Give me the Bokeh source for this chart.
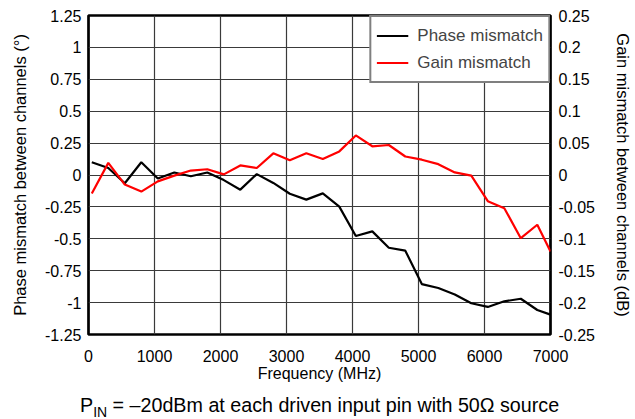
from bokeh.plotting import figure
from bokeh.models import Range1d, LinearAxis, FixedTicker, Div
from bokeh.layouts import column
from bokeh.embed import file_html
from bokeh.resources import INLINE

# ---- data ----
freq_mhz = [50, 300, 550, 800, 1050, 1300, 1550, 1800, 2050, 2300,
            2550, 2800, 3050, 3300, 3550, 3800, 4050, 4300, 4550, 4800,
            5050, 5300, 5550, 5800, 6050, 6300, 6550, 6800, 7000]
phase_deg = [0.10, 0.055, -0.065, 0.10, -0.027, 0.02, -0.01, 0.02, -0.04, -0.115,
             0.007, -0.062, -0.147, -0.193, -0.144, -0.248, -0.478, -0.442, -0.57, -0.593,
             -0.855, -0.886, -0.936, -1.005, -1.034, -0.99, -0.97, -1.058, -1.094]
gain_db = [-0.029, 0.019, -0.015, -0.026, -0.010, -0.001, 0.007, 0.009, 0.001, 0.015,
           0.011, 0.034, 0.023, 0.034, 0.025, 0.037, 0.062, 0.045, 0.047, 0.029,
           0.024, 0.017, 0.004, -0.001, -0.041, -0.052, -0.099, -0.078, -0.12]

x_ticks = [0, 1000, 2000, 3000, 4000, 5000, 6000, 7000]
phase_ticks = [1.25, 1, 0.75, 0.5, 0.25, 0, -0.25, -0.5, -0.75, -1, -1.25]
phase_tick_labels = ["1.25", "1", "0.75", "0.5", "0.25", "0", "-0.25", "-0.5", "-0.75", "-1", "-1.25"]
gain_ticks = [0.25, 0.2, 0.15, 0.1, 0.05, 0, -0.05, -0.1, -0.15, -0.2, -0.25]
gain_tick_labels = ["0.25", "0.2", "0.15", "0.1", "0.05", "0", "-0.05", "-0.1", "-0.15", "-0.2", "-0.25"]

caption_main = "P"
caption_sub = "IN"
caption_rest = "= \u201320dBm at each driven input pin with 50\u03a9 source"

FONT = "Liberation Sans"
W = 635

p = figure(width=W, height=390, output_backend="svg", toolbar_location=None,
           x_range=Range1d(0, 7000), y_range=Range1d(-1.25, 1.25),
           min_border_left=88, min_border_right=85, min_border_top=15, min_border_bottom=56)
p.extra_y_ranges = {"gain": Range1d(-0.25, 0.25)}

p.outline_line_color = "black"
p.outline_line_width = 2.7
p.outline_line_alpha = 1.0
p.background_fill_color = "white"
p.border_fill_color = "white"

xa = p.xaxis[0]
xa.ticker = FixedTicker(ticks=x_ticks)
xa.axis_label = "Frequency (MHz)"

ya = p.yaxis[0]
ya.ticker = FixedTicker(ticks=phase_ticks)
ya.major_label_overrides = {t: s for t, s in zip(phase_ticks, phase_tick_labels)}
ya.axis_label = "Phase mismatch between channels (°)"

ra = LinearAxis(y_range_name="gain", ticker=FixedTicker(ticks=gain_ticks))
ra.major_label_overrides = {t: s for t, s in zip(gain_ticks, gain_tick_labels)}
ra.axis_label = "Gain mismatch between channels (dB)"
p.add_layout(ra, "right")

for ax in [xa, ya, ra]:
    ax.axis_line_color = None
    ax.major_tick_line_color = None
    ax.minor_tick_line_color = None
    ax.major_tick_out = 0
    ax.major_tick_in = 0
    ax.major_label_text_font = FONT
    ax.major_label_text_font_size = "16px"
    ax.major_label_text_color = "black"
    ax.axis_label_text_font = FONT
    ax.axis_label_text_font_style = "normal"
    ax.axis_label_text_color = "black"

xa.major_label_standoff = 15
xa.axis_label_standoff = 0
xa.axis_label_text_font_size = "16px"
ya.major_label_standoff = 7
ya.axis_label_standoff = 13
ya.axis_label_text_font_size = "16.5px"
ra.major_label_standoff = 8
ra.axis_label_standoff = 16
ra.axis_label_text_font_size = "16.5px"

for g in [p.xgrid[0], p.ygrid[0]]:
    g.grid_line_color = "#3a3a3a"
    g.grid_line_width = 1.2
    g.grid_line_alpha = 1.0

p.line(freq_mhz, phase_deg, line_color="black", line_width=2.2, legend_label="Phase mismatch")
p.line(freq_mhz, gain_db, line_color="#ff0000", line_width=2.2, y_range_name="gain",
       legend_label="Gain mismatch")

lg = p.legend[0]
lg.location = "top_right"
lg.margin = 0
lg.padding = 5
lg.spacing = -8
lg.glyph_width = 32
lg.glyph_height = 27
lg.label_height = 27
lg.label_standoff = 9
lg.label_text_font = FONT
lg.label_text_font_size = "17px"
lg.border_line_color = "black"
lg.border_line_width = 2.5
lg.background_fill_color = "white"
lg.background_fill_alpha = 1.0

# ---- caption below the chart ----
cap = Div(
    text=(f'{caption_main}<sub style="font-size:14px; vertical-align:-5px; line-height:1;">'
          f'{caption_sub}</sub> {caption_rest}'),
    width=W, height=29, margin=0,
    styles={"font-family": FONT, "font-size": "19.7px", "line-height": "24px",
            "padding-top": "3px", "padding-left": "80px", "white-space": "nowrap",
            "color": "black", "box-sizing": "border-box", "overflow": "visible"},
)

layout = column(p, cap, spacing=0)
open("out.html", "w").write(file_html(layout, INLINE))
